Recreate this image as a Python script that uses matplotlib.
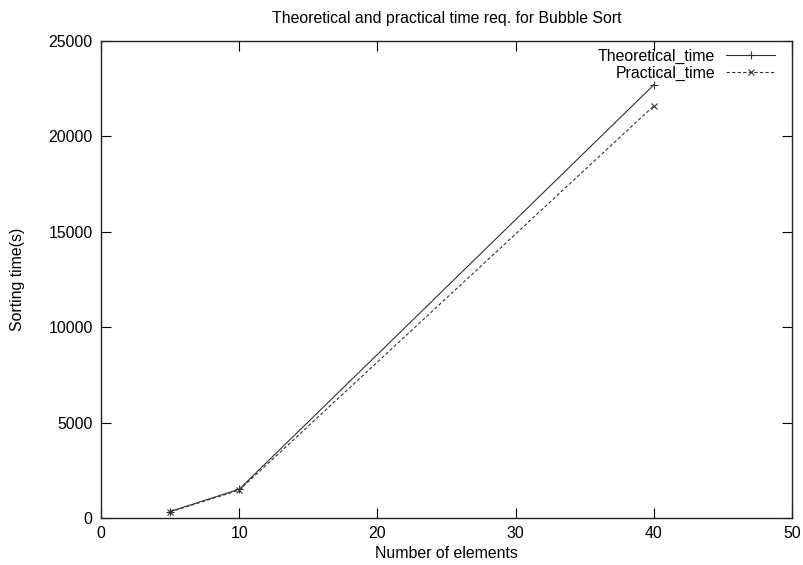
import matplotlib
matplotlib.use("Agg")
import matplotlib.pyplot as plt

# Bubble sort timings
n_elements = [5, 10, 40]
theoretical_time = [340, 1510, 22700]
practical_time = [320, 1460, 21600]

x_ticks = [0, 10, 20, 30, 40, 50]
y_ticks = [0, 5000, 10000, 15000, 20000, 25000]

plt.rcParams['font.family'] = ['Liberation Sans', 'DejaVu Sans']
FS = 11.4

fig = plt.figure(figsize=(8.04, 5.65), dpi=100)
ax = fig.add_axes([101 / 804, 47 / 565, 691 / 804, 477 / 565])

line_col = '#333333'
ax.plot(n_elements, theoretical_time, color=line_col, lw=0.8, linestyle='-',
        marker='+', markersize=6, markeredgewidth=0.8, label='Theoretical_time')
ax.plot(n_elements, practical_time, color=line_col, lw=0.8, linestyle=(0, (3, 2)),
        marker='x', markersize=5, markeredgewidth=0.8, label='Practical_time')

ax.set_xlim(0, 50)
ax.set_ylim(0, 25000)
ax.set_xticks(x_ticks)
ax.set_yticks(y_ticks)
ax.tick_params(direction='in', length=7, width=0.8, top=True, right=True,
               labelsize=FS, pad=6, colors='black')
for s in ax.spines.values():
    s.set_linewidth(1.0)
    s.set_color('#222222')

ax.set_title('Theoretical and practical time req. for Bubble Sort', fontsize=FS, pad=13)
ax.set_xlabel('Number of elements', fontsize=FS, labelpad=3)
ax.set_ylabel('Sorting time(s)', fontsize=FS, labelpad=17)

leg = ax.legend(loc='upper right', bbox_to_anchor=(1 - 12 / 691, 1 - 3 / 477),
                markerfirst=False, frameon=False, numpoints=1,
                handlelength=3.1, handletextpad=0.7, labelspacing=0.1,
                borderaxespad=0.0, borderpad=0.3, fontsize=FS)

fig.savefig('out.png', dpi=100)
